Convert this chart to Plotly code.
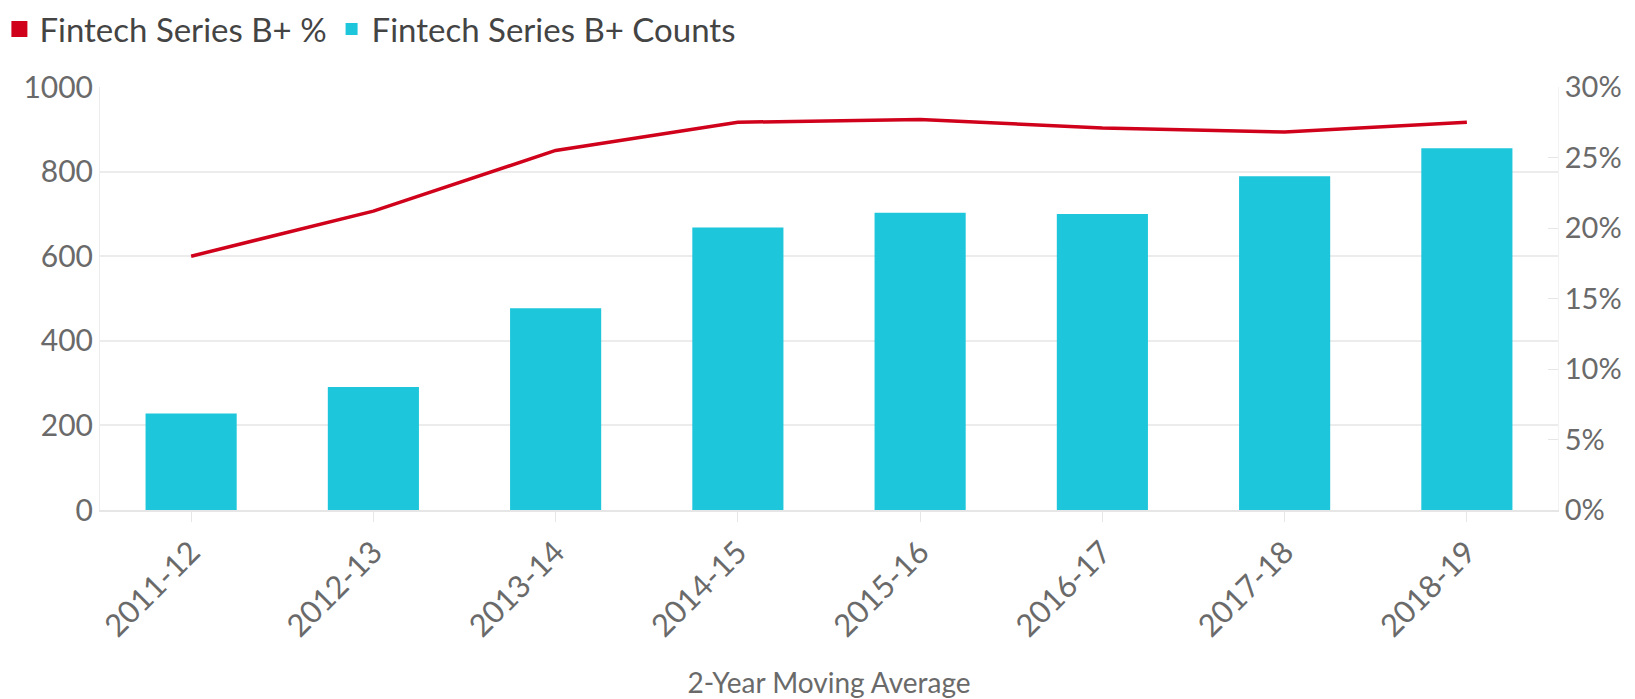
import plotly.graph_objects as go

categories = ["2011-12", "2012-13", "2013-14", "2014-15", "2015-16", "2016-17", "2017-18", "2018-19"]
counts = [228, 291, 477, 668, 703, 700, 789, 855]
pct = [0.180, 0.212, 0.255, 0.275, 0.277, 0.271, 0.268, 0.275]

name_pct = "Fintech Series B+ %"
name_counts = "Fintech Series B+ Counts"
x_title = "2-Year Moving Average"

RED = "#d0021b"
TEAL = "#1dc6da"
GRAY = "#6a6a6a"
GRID = "#ececec"
FONT = "Lato"

fig = go.Figure()

# legend-only marker for the % series (square swatch as in reference)
fig.add_trace(go.Scatter(x=[None], y=[None], mode="markers", name=name_pct,
                         marker=dict(symbol="square", color=RED, size=17),
                         yaxis="y2", showlegend=True, hoverinfo="skip"))
fig.add_trace(go.Bar(x=categories, y=counts, name=name_counts,
                     marker=dict(color=TEAL, line=dict(width=0))))
fig.add_trace(go.Scatter(x=categories, y=pct, name=name_pct, mode="lines",
                         line=dict(color=RED, width=3.5), yaxis="y2",
                         showlegend=False))

fig.update_layout(
    width=1627, height=691,
    margin=dict(l=92, r=77, t=79, b=189, autoexpand=False),
    paper_bgcolor="white", plot_bgcolor="white",
    font=dict(family=FONT, color=GRAY, size=29),
    bargap=0.5,
    barmode="overlay",
    legend=dict(orientation="h", x=-0.069, xanchor="left", y=1.137, yanchor="middle",
                font=dict(size=33, color="#444444"), itemwidth=30,
                tracegroupgap=0, traceorder="normal"),
    xaxis=dict(type="category", tickangle=-45, showline=True, linecolor="#e6e6e6",
               linewidth=1.5, ticks="outside", ticklen=10, tickcolor="#e6e6e6",
               tickfont=dict(size=31, color=GRAY), automargin=False,
               title=dict(text=x_title, font=dict(size=28, color=GRAY), standoff=35),
               showgrid=False),
    yaxis=dict(range=[0, 1000], dtick=200, gridcolor=GRID, gridwidth=1.5,
               showline=True, linecolor=GRID, zeroline=False, automargin=False,
               tickfont=dict(size=30, color=GRAY), ticks=""),
    yaxis2=dict(range=[0, 0.30], dtick=0.05, tickformat=".0%", overlaying="y",
                side="right", showgrid=False, zeroline=False, showline=True,
                linecolor="#f2f2f2", ticks="inside", ticklen=10, tickcolor="#e6e6e6",
                automargin=False, tickfont=dict(size=29, color=GRAY)),
)

fig.write_html("out.html")
